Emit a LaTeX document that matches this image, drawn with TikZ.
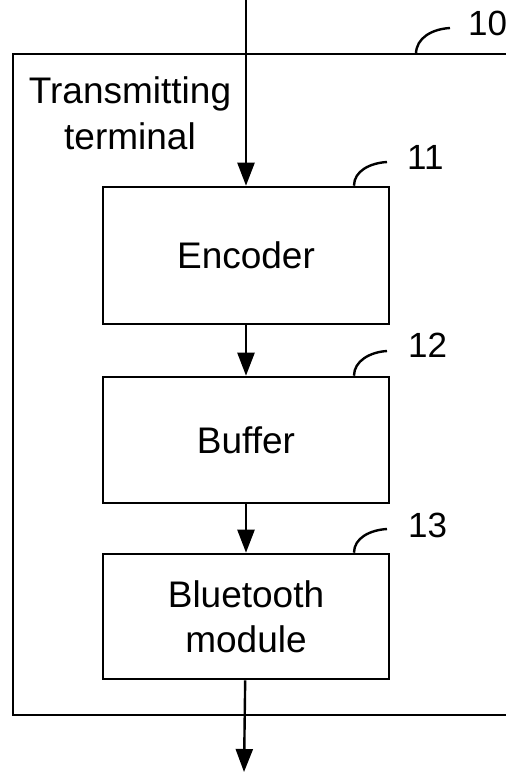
\documentclass[tikz,border=0pt]{standalone}
\usepackage{fontspec}
\setmainfont{Liberation Sans}
\usetikzlibrary{arrows.meta}
\begin{document}
\begin{tikzpicture}[x=1pt,y=-1pt,
  blk/.style={draw,line width=2.6pt,minimum width=286pt,inner sep=0pt,
    font=\fontsize{37}{45}\selectfont,align=center},
  lbl/.style={font=\fontsize{35}{40}\selectfont,anchor=west,inner sep=0pt},
  flow/.style={line width=2.4pt,-{Triangle[length=23pt,width=17pt]}},
  hook/.style={line width=2.4pt},
  frame/.style={line width=2.8pt}]
\useasboundingbox (0,0) rectangle (506,774);
% outer frame
\draw[frame] (540,54) -- (13,54) -- (13,715) -- (540,715);
\coordinate (fr) at (416,54);
\node[font=\fontsize{37}{46}\selectfont,align=center,anchor=north,inner sep=0pt] (title) at (130,76) {Transmitting\\terminal};
% blocks
\node[blk,minimum height=137pt] (enc) at (246,255.5) {Encoder};
\node[blk,minimum height=126pt] (buf) at (246,440) {Buffer};
\node[blk,minimum height=125pt] (bt) at (246,616.5) {Bluetooth\\module};
% connectors
\coordinate (in) at (246,0);
\coordinate (out) at (244,772);
\draw[flow] (in) -- (enc.north);
\draw[flow] (enc) -- (buf);
\draw[flow] (buf) -- (bt);
\draw[flow] (bt) -- (out);
% reference hooks and numbers
\draw[hook] (fr) .. controls (416,38) and (432,29) .. (450,28) coordinate (h10);
\node[lbl] (n10) at (468,23) {10};
\draw[hook] ([xshift=108pt]enc.north) coordinate (a11) .. controls (354,171) and (370,163) .. (387,162);
\node[lbl] (n11) at (407,157) {11};
\draw[hook] ([xshift=108pt]buf.north) .. controls (354,361) and (370,352) .. (387,351);
\node[lbl] (n12) at (408,345) {12};
\draw[hook] ([xshift=108pt]bt.north) .. controls (354,538) and (370,530) .. (387,529);
\node[lbl] (n13) at (408,525) {13};
\end{tikzpicture}
\end{document}
